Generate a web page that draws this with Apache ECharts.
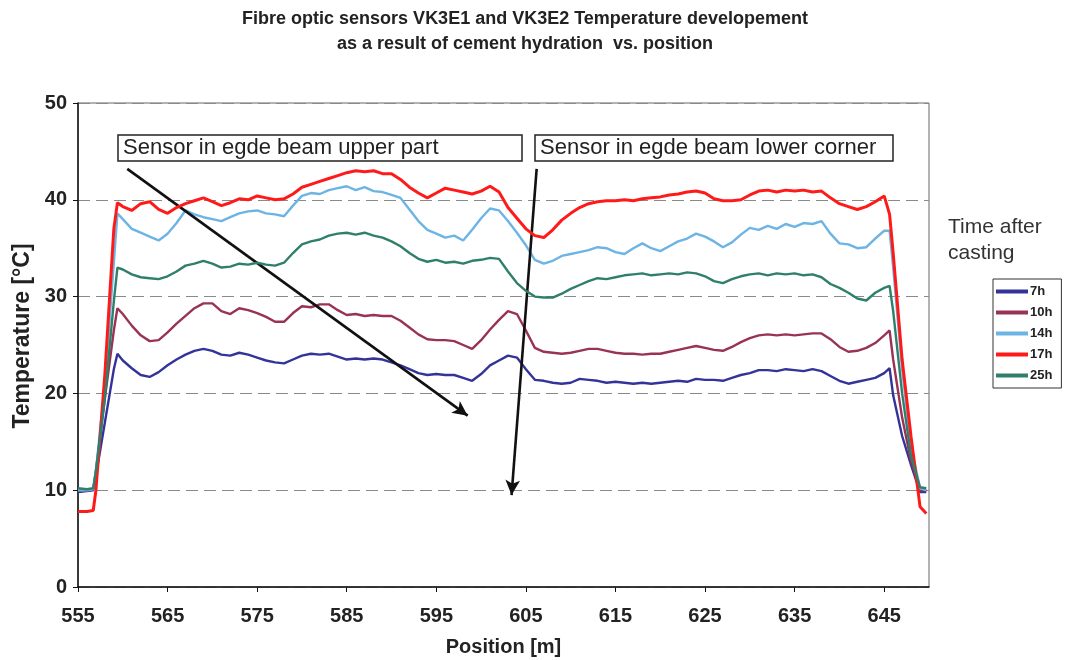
<!DOCTYPE html>
<html>
<head>
<meta charset="utf-8">
<script src="https://cdn.jsdelivr.net/npm/echarts@6/dist/echarts.min.js"></script>
<style>
html,body{margin:0;padding:0;background:#fff;}
#c{width:1065px;height:660px;}
</style>
</head>
<body>
<div id="c"></div>
<script>
// Position [m]
var positions = [555,556,556.7,557,558,559,559.4,560,561,562,563,564,
565,566,567,568,569,570,571,572,573,574,
575,576,577,578,579,580,581,582,583,584,
585,586,587,588,589,590,591,592,593,594,
595,596,597,598,599,600,601,602,603,604,
605,606,607,608,609,610,611,612,613,614,
615,616,617,618,619,620,621,622,623,624,
625,626,627,628,629,630,631,632,633,634,
635,636,637,638,639,640,641,642,643,644,
645,645.6,646,647,648,649,649.7];

var t7h = [9.8,9.9,10.0,11.5,17.0,22.5,24.1,23.4,22.6,21.9,21.7,22.2,
22.9,23.5,24.0,24.4,24.6,24.4,24.0,23.9,24.2,24.0,
23.7,23.4,23.2,23.1,23.5,23.9,24.1,24.0,24.1,23.8,
23.5,23.6,23.5,23.6,23.5,23.2,22.9,22.5,22.1,21.9,
22.0,21.9,21.9,21.6,21.3,22.0,22.9,23.4,23.9,23.7,
22.5,21.4,21.3,21.1,21.0,21.1,21.5,21.4,21.3,21.1,
21.2,21.1,21.0,21.1,21.0,21.1,21.2,21.3,21.2,21.5,
21.4,21.4,21.3,21.6,21.9,22.1,22.4,22.4,22.3,22.5,
22.4,22.3,22.5,22.3,21.8,21.3,21.0,21.2,21.4,21.6,
22.1,22.6,19.8,15.6,12.6,9.8,9.8];

var t10h = [10.0,10.0,10.1,12.0,19.5,26.5,28.8,28.2,27.0,26.0,25.4,25.5,
26.3,27.2,28.0,28.8,29.3,29.3,28.5,28.2,28.8,28.6,
28.3,27.9,27.4,27.4,28.3,29.0,28.9,29.2,29.2,28.6,
28.1,28.2,28.0,28.1,28.0,28.0,27.5,26.8,26.1,25.6,
25.5,25.5,25.4,25.0,24.6,25.5,26.6,27.6,28.5,28.2,
26.5,24.7,24.3,24.2,24.1,24.2,24.4,24.6,24.6,24.4,
24.2,24.1,24.1,24.0,24.1,24.1,24.3,24.5,24.7,24.9,
24.7,24.5,24.4,24.8,25.3,25.7,26.0,26.1,26.0,26.1,
26.0,26.1,26.2,26.2,25.6,24.8,24.3,24.4,24.7,25.2,
26.0,26.5,23.5,17.5,13.0,10.0,10.0];

var t14h = [10.0,10.0,10.1,12.0,21.0,33.5,38.6,38.0,37.0,36.6,36.2,35.8,
36.5,37.6,38.9,38.5,38.2,38.0,37.8,38.2,38.6,38.8,
38.9,38.6,38.5,38.3,39.4,40.4,40.7,40.6,41.0,41.2,
41.4,41.0,41.3,40.9,40.8,40.5,40.2,39.0,37.8,36.9,
36.5,36.1,36.3,35.8,36.9,38.1,39.1,38.9,37.8,36.6,
35.3,33.8,33.4,33.7,34.2,34.4,34.6,34.8,35.1,35.0,
34.6,34.4,35.0,35.5,35.0,34.7,35.2,35.7,36.0,36.5,
36.2,35.7,35.1,35.6,36.4,37.1,36.9,37.3,37.0,37.5,
37.2,37.6,37.5,37.8,36.5,35.5,35.4,35.0,35.1,36.0,
36.8,36.8,33.0,22.5,14.5,10.2,10.0];

var t17h = [7.8,7.8,7.9,10.0,22.0,37.0,39.7,39.3,38.9,39.6,39.8,39.0,
38.6,39.2,39.6,39.9,40.2,39.8,39.4,39.7,40.1,40.0,
40.4,40.2,40.0,40.1,40.6,41.3,41.6,41.9,42.2,42.5,
42.8,43.0,42.9,43.0,42.7,42.7,42.1,41.3,40.7,40.2,
40.7,41.2,41.0,40.8,40.6,40.9,41.4,40.8,39.2,38.1,
37.0,36.3,36.1,36.9,37.9,38.6,39.2,39.6,39.8,39.9,
39.9,40.0,39.9,40.1,40.2,40.3,40.5,40.6,40.8,40.9,
40.7,40.1,39.9,39.9,40.0,40.5,40.9,41.0,40.8,41.0,
40.9,41.0,40.8,40.9,40.2,39.6,39.3,39.0,39.3,39.8,
40.4,38.5,34.5,23.5,15.5,8.3,7.6];

var t25h = [10.2,10.1,10.2,12.0,19.5,29.5,33.0,32.8,32.3,32.0,31.9,31.8,
32.1,32.6,33.2,33.4,33.7,33.4,33.0,33.1,33.4,33.3,
33.5,33.3,33.2,33.5,34.5,35.4,35.7,35.9,36.3,36.5,
36.6,36.4,36.6,36.3,36.1,35.7,35.2,34.5,33.9,33.6,
33.8,33.5,33.6,33.4,33.7,33.8,34.0,33.9,32.6,31.4,
30.6,30.0,29.9,29.9,30.3,30.8,31.2,31.6,31.9,31.8,
32.0,32.2,32.3,32.4,32.2,32.3,32.4,32.3,32.5,32.4,
32.1,31.6,31.4,31.8,32.1,32.3,32.4,32.2,32.4,32.3,
32.4,32.2,32.3,32.0,31.3,30.9,30.4,29.8,29.6,30.4,
30.9,31.1,28.5,20.0,13.5,10.3,10.2];

var seriesNames = ['7h','10h','14h','17h','25h'];
var seriesColors = ['#333399','#993355','#6cb4e4','#ff1a1a','#2f7f6a'];
var seriesValues = [t7h,t10h,t14h,t17h,t25h];

var xTicks = {min:555, max:650, interval:10};
var yTicks = {min:0, max:50, interval:10};

// annotation arrows (start/end in data coordinates)
var arrowUpper = [[560.5,43.2],[598.5,17.7]];
var arrowLower = [[606.2,43.2],[603.4,9.5]];

var FONT = '"Liberation Sans", Arial, sans-serif';

function pairs(vals){
  var out=[];
  for(var i=0;i<positions.length;i++){ out.push([positions[i], vals[i]]); }
  return out;
}

var series = seriesNames.map(function(n,i){
  return {
    name:n, type:'line', data:pairs(seriesValues[i]),
    showSymbol:false, symbol:'none', smooth:false,
    lineStyle:{color:seriesColors[i], width: n==='17h'?3:2.4},
    itemStyle:{color:seriesColors[i]},
    z: 2+i
  };
});
series[4].markLine = {
  silent:true, symbol:['none','arrow'], symbolSize:[11,15],
  label:{show:false},
  lineStyle:{color:'#111', width:2.6, type:'solid'},
  data:[
    [{coord:arrowUpper[0]},{coord:arrowUpper[1]}],
    [{coord:arrowLower[0]},{coord:arrowLower[1]}]
  ]
};

var chart = echarts.init(document.getElementById('c'), null, {renderer:'canvas'});
chart.setOption({
  animation:false,
  backgroundColor:'#fff',
  textStyle:{fontFamily:FONT},
  grid:{left:78, right:136, top:103, bottom:73, show:true, borderColor:'#666', borderWidth:1, outerBoundsMode:'none', containLabel:false},
  legend:{
    data:seriesNames, orient:'vertical', left:993, top:279,
    icon:'rect', itemWidth:32, itemHeight:4, itemGap:8,
    padding:[6,9,6,3], borderColor:'#333', borderWidth:1, backgroundColor:'#fff',
    textStyle:{fontFamily:FONT, fontSize:13, fontWeight:'bold', color:'#222', padding:[0,0,0,-3]}
  },
  xAxis:{
    type:'value', min:xTicks.min, max:xTicks.max, interval:xTicks.interval,
    name:'Position [m]', nameLocation:'middle', nameGap:50,
    nameTextStyle:{fontFamily:FONT, fontSize:20, fontWeight:'bold', color:'#222'},
    axisLine:{show:true, onZero:false, lineStyle:{color:'#111', width:1.5}},
    axisTick:{show:true, inside:false, length:5, lineStyle:{color:'#111'}},
    axisLabel:{fontFamily:FONT, fontSize:20, fontWeight:'bold', color:'#222', margin:19, showMaxLabel:false},
    splitLine:{show:false}
  },
  yAxis:{
    type:'value', min:yTicks.min, max:yTicks.max, interval:yTicks.interval,
    name:'Temperature [°C]', nameLocation:'middle', nameGap:44, nameRotate:90,
    nameTextStyle:{fontFamily:FONT, fontSize:23, fontWeight:'bold', color:'#222', padding:[0,0,0,18]},
    axisLine:{show:true, lineStyle:{color:'#111', width:1.5}},
    axisTick:{show:true, inside:false, length:5, lineStyle:{color:'#111'}},
    axisLabel:{fontFamily:FONT, fontSize:20, fontWeight:'bold', color:'#222', margin:11},
    splitLine:{show:true, lineStyle:{color:'#8a8a8a', width:1, type:[12,6]}}
  },
  graphic:[
    {type:'text', x:525, y:10, style:{text:'Fibre optic sensors VK3E1 and VK3E2 Temperature developement', font:'bold 18px '+FONT, fill:'#222', align:'center'}},
    {type:'text', x:525, y:35, style:{text:'as a result of cement hydration  vs. position', font:'bold 18px '+FONT, fill:'#222', align:'center'}},
    {type:'group', z:100, children:[
      {type:'rect', shape:{x:118,y:135,width:404,height:26}, style:{fill:'#fff', stroke:'#222', lineWidth:1.5}},
      {type:'text', x:123, y:148, style:{text:'Sensor in egde beam upper part', font:'22px '+FONT, fill:'#222', verticalAlign:'middle'}},
      {type:'rect', shape:{x:535,y:135,width:358,height:26}, style:{fill:'#fff', stroke:'#222', lineWidth:1.5}},
      {type:'text', x:540, y:148, style:{text:'Sensor in egde beam lower corner', font:'22px '+FONT, fill:'#222', verticalAlign:'middle'}}
    ]},
    {type:'text', x:948, y:214, style:{text:'Time after\ncasting', font:'21px '+FONT, fill:'#333', lineHeight:26}}
  ],
  series:series
});
</script>
</body>
</html>
